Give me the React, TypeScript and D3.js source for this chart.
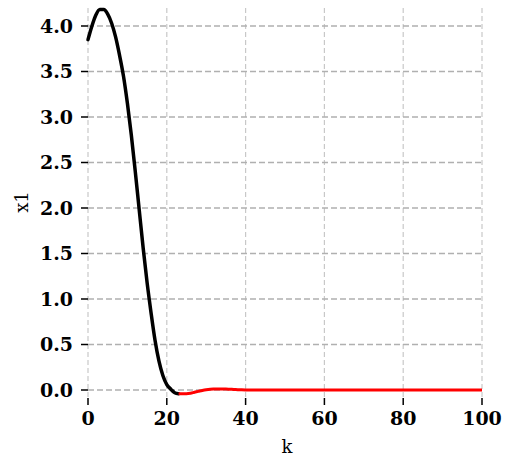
import React from "react";
import * as d3 from "d3";

const blackK = [0, 1, 2, 3, 4, 5, 6, 7, 8, 9, 10, 11, 12, 13, 14, 15, 16, 17, 18, 19, 20, 21, 22, 23];
const blackX1 = [3.85, 4.0, 4.12, 4.18, 4.18, 4.13, 4.03, 3.88, 3.68, 3.45, 3.15, 2.8, 2.4, 1.98, 1.56, 1.18, 0.85, 0.55, 0.32, 0.16, 0.06, 0.01, -0.03, -0.04];
const redK = [23, 24, 25, 26, 27, 28, 29, 30, 31, 32, 33, 34, 35, 36, 37, 38, 39, 40, 50, 60, 70, 80, 90, 100];
const redX1 = [-0.04, -0.04, -0.04, -0.035, -0.025, -0.015, -0.005, 0.003, 0.008, 0.01, 0.011, 0.011, 0.01, 0.008, 0.006, 0.004, 0.002, 0.001, 0, 0, 0, 0, 0, 0];
const xTicks = [0, 20, 40, 60, 80, 100];
const yTicks = [0, 0.5, 1.0, 1.5, 2.0, 2.5, 3.0, 3.5, 4.0];

export default function App() {
  const W = 506, H = 459;
  const x = d3.scaleLinear().domain([0, 100]).range([88, 482]);
  const y = d3.scaleLinear().domain([0, 4]).range([390, 26]);
  const top = 8, bottom = 400;
  const line = d3.line<[number, number]>().x(d => x(d[0])).y(d => y(d[1])).curve(d3.curveMonotoneX);
  const blackPts = blackK.map((k, i) => [k, blackX1[i]] as [number, number]);
  const redPts = redK.map((k, i) => [k, redX1[i]] as [number, number]);
  const tickFont = "'DejaVu Serif', serif";
  return (
    <svg width={W} height={H} style={{ position: "absolute", left: 0, top: 0 }}>
      <rect width={W} height={H} fill="#fff" />
      {xTicks.map(t => (
        <line key={"vx" + t} x1={x(t)} x2={x(t)} y1={top} y2={bottom} stroke="#c8c8c8" strokeWidth={1.2} strokeDasharray="5,3" />
      ))}
      {yTicks.map(t => (
        <line key={"hy" + t} x1={88} x2={482} y1={y(t)} y2={y(t)} stroke="#b0b0b0" strokeWidth={1.4} strokeDasharray="6,3" />
      ))}
      <path d={line(blackPts) || ""} fill="none" stroke="#000" strokeWidth={3.5} strokeLinejoin="round" strokeLinecap="round" />
      <path d={line(redPts) || ""} fill="none" stroke="#ff0000" strokeWidth={3} strokeLinejoin="round" />
      {yTicks.map(t => (
        <g key={"yt" + t}>
          <line x1={81} x2={88} y1={y(t)} y2={y(t)} stroke="#000" strokeWidth={1.5} />
          <text x={73} y={y(t)} dy="0.36em" textAnchor="end" fontFamily={tickFont} fontWeight="bold" fontSize={19} fill="#000">{t.toFixed(1)}</text>
        </g>
      ))}
      {xTicks.map(t => (
        <g key={"xt" + t}>
          <line x1={x(t)} x2={x(t)} y1={398} y2={405} stroke="#000" strokeWidth={1.5} />
          <text x={x(t)} y={425} textAnchor="middle" fontFamily={tickFont} fontWeight="bold" fontSize={19} fill="#000">{t}</text>
        </g>
      ))}
      <text x={287} y={453} textAnchor="middle" fontFamily={tickFont} fontSize={18} fill="#000">k</text>
      <text transform={`translate(28,202) rotate(-90)`} textAnchor="middle" fontFamily={tickFont} fontSize={18} fill="#000">x1</text>
    </svg>
  );
}
